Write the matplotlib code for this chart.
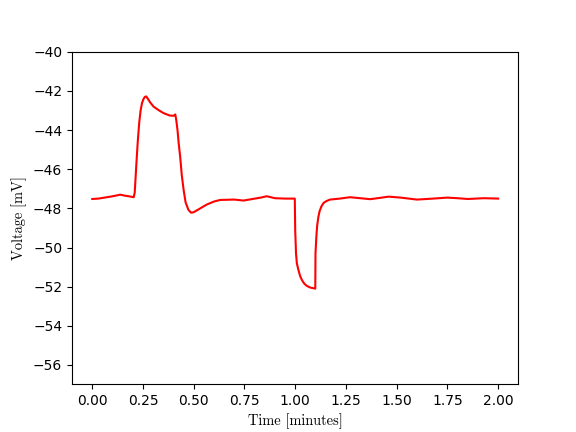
import matplotlib
matplotlib.use("Agg")
import matplotlib.pyplot as plt
import numpy as np

# Trace (time in minutes, voltage in mV)
time_min = [0.000, 0.030, 0.060, 0.090, 0.115, 0.138, 0.160, 0.180, 0.204, 0.209,
            0.213, 0.218, 0.224, 0.231, 0.238, 0.245, 0.252, 0.259, 0.266, 0.274,
            0.285, 0.302, 0.330, 0.351, 0.380, 0.400, 0.409, 0.414, 0.420, 0.426,
            0.433, 0.441, 0.450, 0.460, 0.474, 0.487, 0.499, 0.512, 0.524, 0.545,
            0.565, 0.600, 0.630, 0.700, 0.745, 0.790, 0.830, 0.860, 0.900, 0.950,
            0.998, 1.000, 1.004, 1.008, 1.016, 1.024, 1.033, 1.045, 1.057, 1.075,
            1.099, 1.100, 1.104, 1.108, 1.114, 1.120, 1.130, 1.140, 1.155, 1.172,
            1.220, 1.270, 1.320, 1.370, 1.420, 1.460, 1.520, 1.600, 1.680, 1.750,
            1.800, 1.850, 1.930, 2.000]
voltage_mv = [-47.52, -47.50, -47.45, -47.40, -47.35, -47.30, -47.35, -47.38, -47.43, -47.20,
              -46.50, -45.60, -44.60, -43.65, -43.00, -42.62, -42.42, -42.30, -42.28, -42.40,
              -42.58, -42.80, -43.00, -43.13, -43.25, -43.27, -43.20, -43.50, -44.00, -44.70,
              -45.35, -46.30, -47.05, -47.70, -48.08, -48.22, -48.20, -48.12, -48.05, -47.92,
              -47.80, -47.65, -47.57, -47.55, -47.60, -47.52, -47.45, -47.38, -47.48, -47.50,
              -47.50, -49.10, -50.30, -50.80, -51.15, -51.45, -51.66, -51.85, -51.96, -52.05,
              -52.10, -50.30, -49.50, -48.90, -48.45, -48.15, -47.88, -47.72, -47.62, -47.55,
              -47.50, -47.43, -47.48, -47.53, -47.46, -47.40, -47.45, -47.55, -47.50, -47.45,
              -47.48, -47.52, -47.48, -47.50]

fig, ax = plt.subplots(figsize=(5.76, 4.32), dpi=100)

ax.plot(time_min, voltage_mv, color="red", lw=1.5)

ax.set_ylim(-57, -40)
ax.set_yticks(np.arange(-56, -39, 2))
ax.set_xticks(np.arange(0, 2.01, 0.25))

label_font = {"family": "cmr10", "size": 10.4}
ax.set_xlabel("Time [minutes]", fontdict=label_font)
ax.set_ylabel("Voltage [mV]", fontdict=label_font)

fig.savefig("out.png", dpi=100)
